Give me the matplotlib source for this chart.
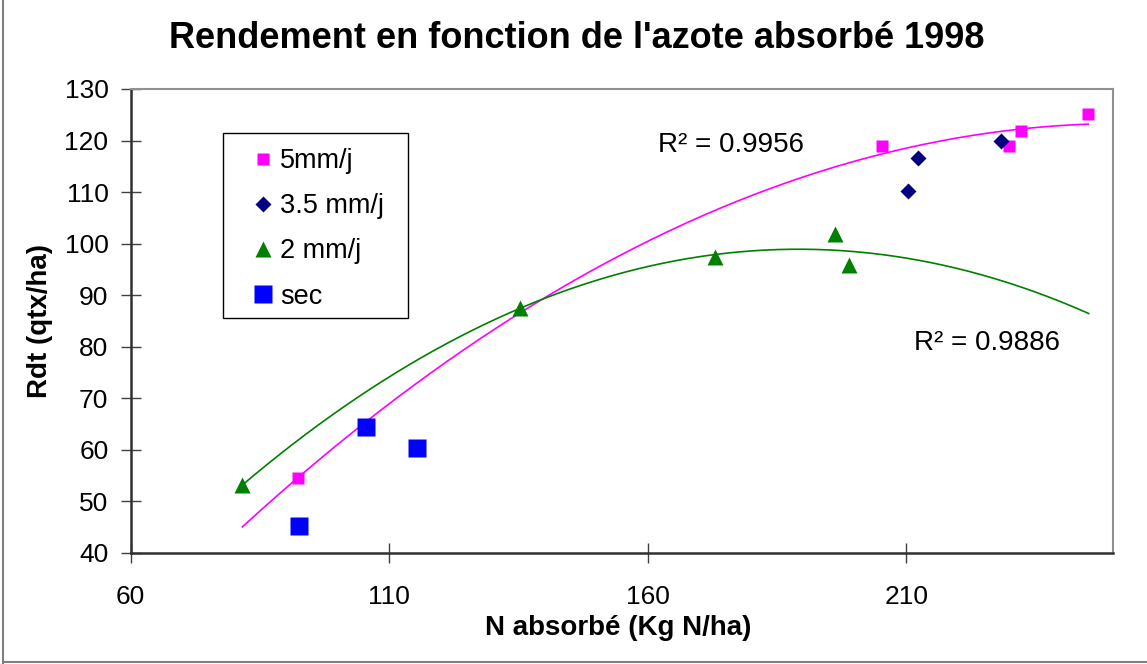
import numpy as np
import matplotlib
matplotlib.use("Agg")
import matplotlib.pyplot as plt
from matplotlib.lines import Line2D
from matplotlib.patches import Rectangle

plt.rcParams['font.family'] = ['Liberation Sans', 'DejaVu Sans']

# ---- data ----
x_5mm = [92.3, 205.4, 229.8, 232.3, 245.2]
y_5mm = [54.5, 119.0, 119.0, 121.8, 125.1]
x_35mm = [212.2, 210.4, 228.4]
y_35mm = [116.7, 110.3, 120.0]
x_2mm = [81.6, 135.3, 173.0, 196.2, 199.0]
y_2mm = [53.2, 87.5, 97.4, 101.9, 95.8]
x_sec = [92.6, 105.6, 115.3]
y_sec = [45.2, 64.5, 60.3]

trend_5mm_range = [81.6, 245.2]
trend_2mm_range = [81.6, 245.3]
r2_labels = ["R² = 0.9956", "R² = 0.9886"]
x_ticks = [60, 110, 160, 210]
y_ticks = [40, 50, 60, 70, 80, 90, 100, 110, 120, 130]

W, H = 1147, 664
fig = plt.figure(figsize=(W / 100, H / 100), dpi=100)
ax = fig.add_axes([130.7 / W, 1 - 553 / H, (1113 - 130.7) / W, (553 - 89) / H])

# trendlines (2nd order polynomial fits, as Excel)
c5 = np.polyfit(x_5mm, y_5mm, 2)
xx5 = np.linspace(trend_5mm_range[0], trend_5mm_range[1], 200)
ax.plot(xx5, np.polyval(c5, xx5), color='#FF00FF', lw=1.2, zorder=2)
c2 = np.polyfit(x_2mm, y_2mm, 2)
xx2 = np.linspace(trend_2mm_range[0], trend_2mm_range[1], 200)
ax.plot(xx2, np.polyval(c2, xx2), color='#008000', lw=1.2, zorder=2)

ax.plot(x_5mm, y_5mm, 's', color='#FF00FF', ms=8.5, mec='none', label='5mm/j', zorder=3)
ax.plot(x_35mm, y_35mm, 'D', color='#000080', ms=8.5, mec='none', label='3.5 mm/j', zorder=3)
ax.plot(x_2mm, y_2mm, '^', color='#008000', ms=11, mec='none', label='2 mm/j', zorder=3)
ax.plot(x_sec, y_sec, 's', color='#0000FF', ms=13.5, mec='none', label='sec', zorder=3)

ax.text(162, 119.2, r2_labels[0], fontsize=20, va='center', ha='left', zorder=4)
ax.text(211.6, 80.7, r2_labels[1], fontsize=20, va='center', ha='left', zorder=4)

ax.set_xlim(60, 250)
ax.set_ylim(40, 130)
ax.set_xticks(x_ticks)
ax.set_yticks(y_ticks)
ax.tick_params(axis='both', direction='inout', length=14, width=1, color='#404040',
               labelsize=19)
ax.tick_params(axis='x', pad=16)
ax.tick_params(axis='y', pad=9)

for s in ['left', 'bottom']:
    ax.spines[s].set_color('#303030')
    ax.spines[s].set_linewidth(1.8)
for s in ['top', 'right']:
    ax.spines[s].set_color('#909090')
    ax.spines[s].set_linewidth(1.5)

ax.set_xlabel('N absorbé (Kg N/ha)', fontsize=20, fontweight='bold')
ax.xaxis.set_label_coords(0.496, -0.134)
ax.set_ylabel('Rdt (qtx/ha)', fontsize=20, fontweight='bold')
ax.yaxis.set_label_coords(-0.079, 0.5)

fig.text(0.5026, 1 - 38 / H, "Rendement en fonction de l'azote absorbé 1998",
         fontsize=26, fontweight='bold', ha='center', va='center')

# legend: box drawn separately, entries placed inside
fig.add_artist(Rectangle((223.3 / W, 1 - 318.3 / H), (407.7 - 223.3) / W, (318.3 - 132.7) / H,
                         transform=fig.transFigure, facecolor='white', edgecolor='black',
                         lw=1.0, zorder=5))
leg = fig.legend(*ax.get_legend_handles_labels(), loc='upper left',
                 bbox_to_anchor=(249.2 / W, 1 - 148 / H),
                 borderaxespad=0, borderpad=0, frameon=False, fontsize=19.5,
                 labelspacing=0.71, handlelength=1.0, handletextpad=0.15, numpoints=1)
leg.set_zorder(6)

# outer chart border (left and bottom visible)
fig.add_artist(Line2D([3 / W, 3 / W], [1 - 663 / H, 1], color='#808080', lw=1.5))
fig.add_artist(Line2D([3 / W, 1], [1 - 662 / H, 1 - 662 / H], color='#808080', lw=1.5))

fig.savefig('out.png', dpi=100)
